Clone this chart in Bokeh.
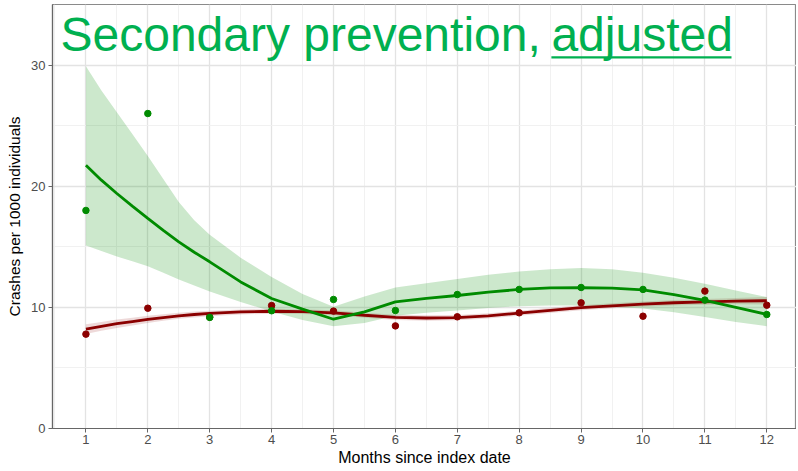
from bokeh.plotting import figure
from bokeh.models import Label, FixedTicker, Range1d, BoxAnnotation
from bokeh.embed import file_html
from bokeh.resources import INLINE

# observed values
months = list(range(1, 13))
green_obs = [18.0, 26.0, 9.17, 9.72, 10.65, 9.74, 11.06, 11.48, 11.64, 11.48, 10.6, 9.41]
red_obs = [7.79, 9.93, 9.2, 10.15, 9.69, 8.47, 9.22, 9.55, 10.37, 9.27, 11.34, 10.18]

# smoothed fits
fit_x = [1, 1.25, 1.5, 1.75, 2, 2.25, 2.5, 2.75, 3, 3.5, 4, 4.5, 5, 5.5, 6, 6.5, 7, 7.5, 8,
         8.5, 9, 9.5, 10, 10.5, 11, 11.5, 12]
green_fit = [21.74, 20.5, 19.4, 18.35, 17.34, 16.35, 15.4, 14.55, 13.76, 12.1, 10.73, 9.85, 9.02,
             9.63, 10.45, 10.75, 10.98, 11.25, 11.48, 11.6, 11.62, 11.58, 11.45, 11.05, 10.57,
             10.0, 9.42]
green_hi = [29.9, 27.9, 26.1, 24.3, 22.5, 20.6, 18.7, 17.2, 16.0, 14.1, 12.5, 11.1, 10.05, 10.9,
            11.64, 12.0, 12.35, 12.7, 12.95, 13.15, 13.25, 13.15, 12.85, 12.45, 11.95, 11.4, 10.85]
green_lo = [15.1, 14.65, 14.2, 13.8, 13.4, 12.85, 12.3, 11.8, 11.3, 10.45, 9.65, 8.95, 8.45, 8.7,
            9.3, 9.55, 9.75, 9.95, 10.1, 10.15, 10.15, 10.05, 9.9, 9.6, 9.2, 8.8, 8.45]
red_fit = [8.2, 8.43, 8.65, 8.83, 9.0, 9.16, 9.3, 9.41, 9.5, 9.62, 9.68, 9.65, 9.55, 9.35, 9.18,
           9.12, 9.15, 9.3, 9.52, 9.75, 9.97, 10.13, 10.27, 10.38, 10.46, 10.52, 10.55]
red_hi = [8.6, 8.8, 9.0, 9.15, 9.3, 9.43, 9.55, 9.65, 9.73, 9.83, 9.88, 9.85, 9.76, 9.56, 9.4,
          9.34, 9.37, 9.51, 9.73, 9.96, 10.18, 10.34, 10.48, 10.6, 10.7, 10.78, 10.86]
red_lo = [7.8, 8.06, 8.3, 8.51, 8.7, 8.89, 9.05, 9.17, 9.27, 9.41, 9.48, 9.45, 9.34, 9.14, 8.96,
          8.9, 8.93, 9.09, 9.31, 9.54, 9.76, 9.92, 10.06, 10.16, 10.22, 10.26, 10.24]

x_ticks = list(range(1, 13))
x_minor = [0.5 + i for i in range(13)]
y_ticks = [0, 10, 20, 30]
y_minor = [5, 15, 25]

title_main = "Secondary prevention, "
title_under = "adjusted"
x_title = "Months since index date"
y_title = "Crashes per 1000 individuals"

GREEN = "#008B00"
RED = "#8B0000"
TITLE_GREEN = "#00B050"
FONT = "Liberation Sans"

p = figure(width=796, height=468, output_backend="svg", toolbar_location=None,
           x_range=Range1d(0.46, 12.48), y_range=Range1d(0, 35.0),
           min_border_left=52, min_border_top=4, min_border_right=0, min_border_bottom=40)
p.background_fill_color = "white"
p.border_fill_color = "white"
p.outline_line_color = "#8A8A8A"
p.outline_line_width = 1.2

p.xaxis.ticker = FixedTicker(ticks=x_ticks, minor_ticks=x_minor)
p.yaxis.ticker = FixedTicker(ticks=y_ticks, minor_ticks=y_minor)
for ax in (p.xaxis, p.yaxis):
    ax.axis_line_color = "#666666"
    ax.axis_line_width = 1.2
    ax.major_tick_line_color = "#666666"
    ax.major_tick_in = 0
    ax.major_tick_out = 4
    ax.minor_tick_line_color = None
    ax.major_label_text_font = FONT
    ax.major_label_text_font_size = "13px"
    ax.major_label_text_color = "#4D4D4D"
    ax.axis_label_text_font = FONT
    ax.axis_label_text_color = "black"
    ax.axis_label_text_font_style = "normal"
p.xaxis.axis_label_text_font_size = "16px"
p.yaxis.axis_label_text_font_size = "15.5px"
p.xaxis.axis_label = x_title
p.yaxis.axis_label = y_title
p.xaxis.major_label_standoff = 2
p.xaxis.axis_label_standoff = 2
p.yaxis.major_label_standoff = 3
p.yaxis.axis_label_standoff = 5

for g in (p.xgrid, p.ygrid):
    g.grid_line_color = "#E3E3E3"
    g.grid_line_width = 1.3
    g.minor_grid_line_color = "#EFEFEF"
    g.minor_grid_line_width = 0.9

# bands
p.varea(x=fit_x, y1=red_lo, y2=red_hi, fill_color=RED, fill_alpha=0.15)
p.varea(x=fit_x, y1=green_lo, y2=green_hi, fill_color=GREEN, fill_alpha=0.2)
# fitted lines
p.line(fit_x, red_fit, line_color=RED, line_width=2.8)
p.line(fit_x, green_fit, line_color=GREEN, line_width=2.8)
# points
p.scatter(months, red_obs, size=6.5, fill_color=RED, line_color=RED)
p.scatter(months, green_obs, size=6.5, fill_color=GREEN, line_color=GREEN)

# title inside the panel
p.add_layout(Label(x=0.589, y=32.54, text=title_main, text_font=FONT, text_font_size="48px",
                   text_color=TITLE_GREEN, text_baseline="alphabetic"))
p.add_layout(Label(x=8.52, y=32.54, text=title_under, text_font=FONT, text_font_size="48px",
                   text_color=TITLE_GREEN, text_baseline="alphabetic"))
p.add_layout(BoxAnnotation(left=8.52, right=11.43, bottom=30.55, top=30.72,
                           fill_color=TITLE_GREEN, fill_alpha=1.0, line_color=None))

open("out.html", "w").write(file_html(p, INLINE))
